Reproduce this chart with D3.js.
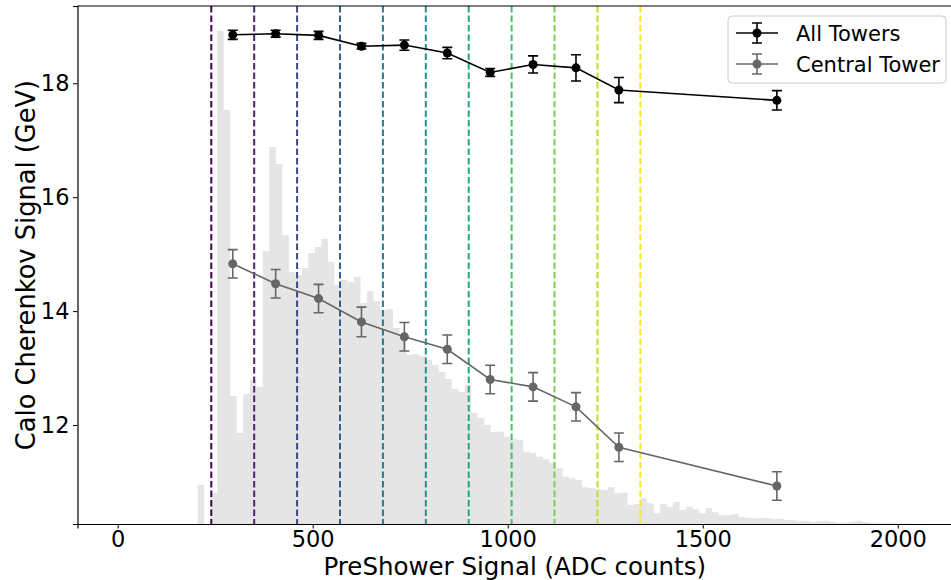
<!DOCTYPE html>
<html>
<head>
<meta charset="utf-8">
<script src="https://cdn.jsdelivr.net/npm/d3@7"></script>
<style>
  body { margin: 0; background: #fff; }
  svg { font-family: "DejaVu Sans", sans-serif; }
</style>
</head>
<body>
<div id="chart"></div>
<script>
// histogram of preshower signal (bin start/width in ADC counts, counts per bin)
const histStart = 205;
const histBinWidth = 16.7;
const histCounts = [
    390, 0, 310, 4930, 4140, 1280, 910, 1300, 1440, 1370,
    2730, 3770, 3600, 2890, 2520, 2490, 2560, 2710, 2770, 2850,
    2620, 2390, 2440, 2420, 2470, 2210, 2330, 2230, 2140, 2150,
    1960, 1870, 1690, 1700, 1680, 1640, 1590, 1520, 1450, 1350,
    1320, 1390, 1110, 1060, 990, 920, 925, 873, 853, 840,
    723, 707, 673, 647, 613, 557, 473, 457, 440, 367,
    357, 347, 340, 367, 307, 313, 190, 200, 257, 207,
    107, 200, 173, 223, 140, 173, 147, 107, 157, 117,
    90, 87, 100, 73, 63, 57, 60, 57, 50, 53,
    40, 37, 33, 30, 23, 30, 33, 23, 13, 13,
    23, 33, 20, 13, 10, 10, 7, 7, 5, 5,
    3, 3
];

// slice boundaries (dashed lines)
const cutEdges = [240, 350, 460, 570, 680, 790, 900, 1010, 1120, 1230, 1340];

// mean preshower signal of each slice
const sliceX = [295, 405, 515, 625, 735, 845, 955, 1065, 1175, 1285, 1690];
const allTowers = [18.85, 18.87, 18.84, 18.65, 18.67, 18.53, 18.19, 18.33, 18.27, 17.88, 17.70];
const allTowersErr = [0.08, 0.06, 0.07, 0.05, 0.09, 0.10, 0.07, 0.15, 0.23, 0.22, 0.17];
const central = [14.83, 14.48, 14.22, 13.81, 13.55, 13.33, 12.80, 12.67, 12.32, 11.61, 10.93];
const centralErr = [0.25, 0.25, 0.25, 0.26, 0.25, 0.25, 0.25, 0.25, 0.25, 0.25, 0.25];

const xTicks = [0, 500, 1000, 1500, 2000];
const yTicks = [12, 14, 16, 18];

const series = [
    { name: "All Towers", values: allTowers, err: allTowersErr, color: "#000000" },
    { name: "Central Tower", values: central, err: centralErr, color: "#666666" }
];

const margin = { top: 6, right: -1, bottom: 56, left: 77.5 };
const W = 951, H = 580;
const width = W - margin.left - margin.right;
const height = H - margin.top - margin.bottom;

const root = d3.select("#chart").append("svg")
    .attr("width", W)
    .attr("height", H);

const svg = root.append("g")
    .attr("transform", `translate(${margin.left},${margin.top})`);

const x = d3.scaleLinear().domain([-103, 2139]).range([0, width]);
const y = d3.scaleLinear().domain([10.263, 19.356]).range([height, 0]);
const yh = d3.scaleLinear().domain([0, 5000]).range([height, height - 500]);

svg.append("clipPath").attr("id", "clip")
    .append("rect").attr("width", width).attr("height", height);

const plot = svg.append("g").attr("clip-path", "url(#clip)");

// histogram as a filled step shape
const histPts = histCounts.map((c, i) => ({ x: histStart + i * histBinWidth, c: c }));
histPts.push({ x: histStart + histCounts.length * histBinWidth, c: histCounts[histCounts.length - 1] });
plot.append("path")
    .datum(histPts)
    .attr("fill", "#e5e5e5")
    .attr("d", d3.area()
        .curve(d3.curveStepAfter)
        .x(d => x(d.x))
        .y0(height)
        .y1(d => yh(d.c)));

// dashed slice boundaries
plot.selectAll(".cut")
    .data(cutEdges)
    .enter()
    .append("line")
        .attr("class", "cut")
        .attr("x1", d => x(d))
        .attr("x2", d => x(d))
        .attr("y1", 0)
        .attr("y2", height)
        .attr("stroke", (d, i) => d3.interpolateViridis(i / (cutEdges.length - 1)))
        .attr("stroke-width", 2)
        .attr("stroke-dasharray", "6.5,3");

// series: line, error bars, markers
series.forEach(s => {
    const pts = s.values.map((v, i) => ({ x: sliceX[i], v: v, e: s.err[i] }));
    const g = plot.append("g");
    g.append("path")
        .datum(pts)
        .attr("fill", "none")
        .attr("stroke", s.color)
        .attr("stroke-width", 1.6)
        .attr("d", d3.line().x(d => x(d.x)).y(d => y(d.v)));
    g.selectAll(".eb")
        .data(pts)
        .enter()
        .append("path")
            .attr("fill", "none")
            .attr("stroke", s.color)
            .attr("stroke-width", 1.6)
            .attr("d", d => {
                const cx = x(d.x), y1 = y(d.v + d.e), y2 = y(d.v - d.e);
                return `M${cx},${y1}V${y2}M${cx - 5},${y1}H${cx + 5}M${cx - 5},${y2}H${cx + 5}`;
            });
    g.selectAll(".dot")
        .data(pts)
        .enter()
        .append("circle")
            .attr("cx", d => x(d.x))
            .attr("cy", d => y(d.v))
            .attr("r", 4.5)
            .attr("fill", s.color);
});

// axes
const xAxis = svg.append("g")
    .attr("transform", `translate(0,${height})`)
    .call(d3.axisBottom(x).tickValues(xTicks).tickSize(4.5).tickPadding(3).tickFormat(d3.format("d")));
const yAxis = svg.append("g")
    .call(d3.axisLeft(y).tickValues(yTicks).tickSize(4.5).tickPadding(3.5).tickFormat(d3.format("d")));
[xAxis, yAxis].forEach(a => {
    a.selectAll("text").attr("font-size", 22.5).attr("font-family", "DejaVu Sans").attr("fill", "#000");
    a.selectAll("line").attr("stroke", "#000").attr("stroke-width", 1);
    a.select(".domain").attr("stroke", "#000").attr("stroke-width", 1.2);
});

// top spine
svg.append("line")
    .attr("x1", 0).attr("x2", width)
    .attr("y1", 0).attr("y2", 0)
    .attr("stroke", "#000").attr("stroke-width", 1.2);

// axis labels
svg.append("text")
    .attr("x", width / 2)
    .attr("y", height + 51)
    .attr("text-anchor", "middle")
    .attr("font-size", 24.5)
    .text("PreShower Signal (ADC counts)");

svg.append("text")
    .attr("transform", `translate(${-42.5},${height / 2}) rotate(-90)`)
    .attr("text-anchor", "middle")
    .attr("font-size", 25.7)
    .text("Calo Cherenkov Signal (GeV)");

// legend
const legend = root.append("g").attr("transform", "translate(728,16)");
legend.append("rect")
    .attr("width", 218).attr("height", 67)
    .attr("rx", 4)
    .attr("fill", "#fff").attr("fill-opacity", 0.8)
    .attr("stroke", "#cccccc");
series.forEach((s, i) => {
    const ly = 17 + i * 31;
    const le = legend.append("g").attr("transform", `translate(0,${ly})`);
    le.append("line").attr("x1", 8).attr("x2", 50).attr("y1", 0).attr("y2", 0)
        .attr("stroke", s.color).attr("stroke-width", 1.6);
    le.append("path")
        .attr("fill", "none").attr("stroke", s.color).attr("stroke-width", 1.6)
        .attr("d", "M29,-10V10M24,-10H34M24,10H34");
    le.append("circle").attr("cx", 29).attr("cy", 0).attr("r", 4.5).attr("fill", s.color);
    le.append("text")
        .attr("x", 68).attr("y", 7.5)
        .attr("font-size", 21)
        .text(s.name);
});
</script>
</body>
</html>
